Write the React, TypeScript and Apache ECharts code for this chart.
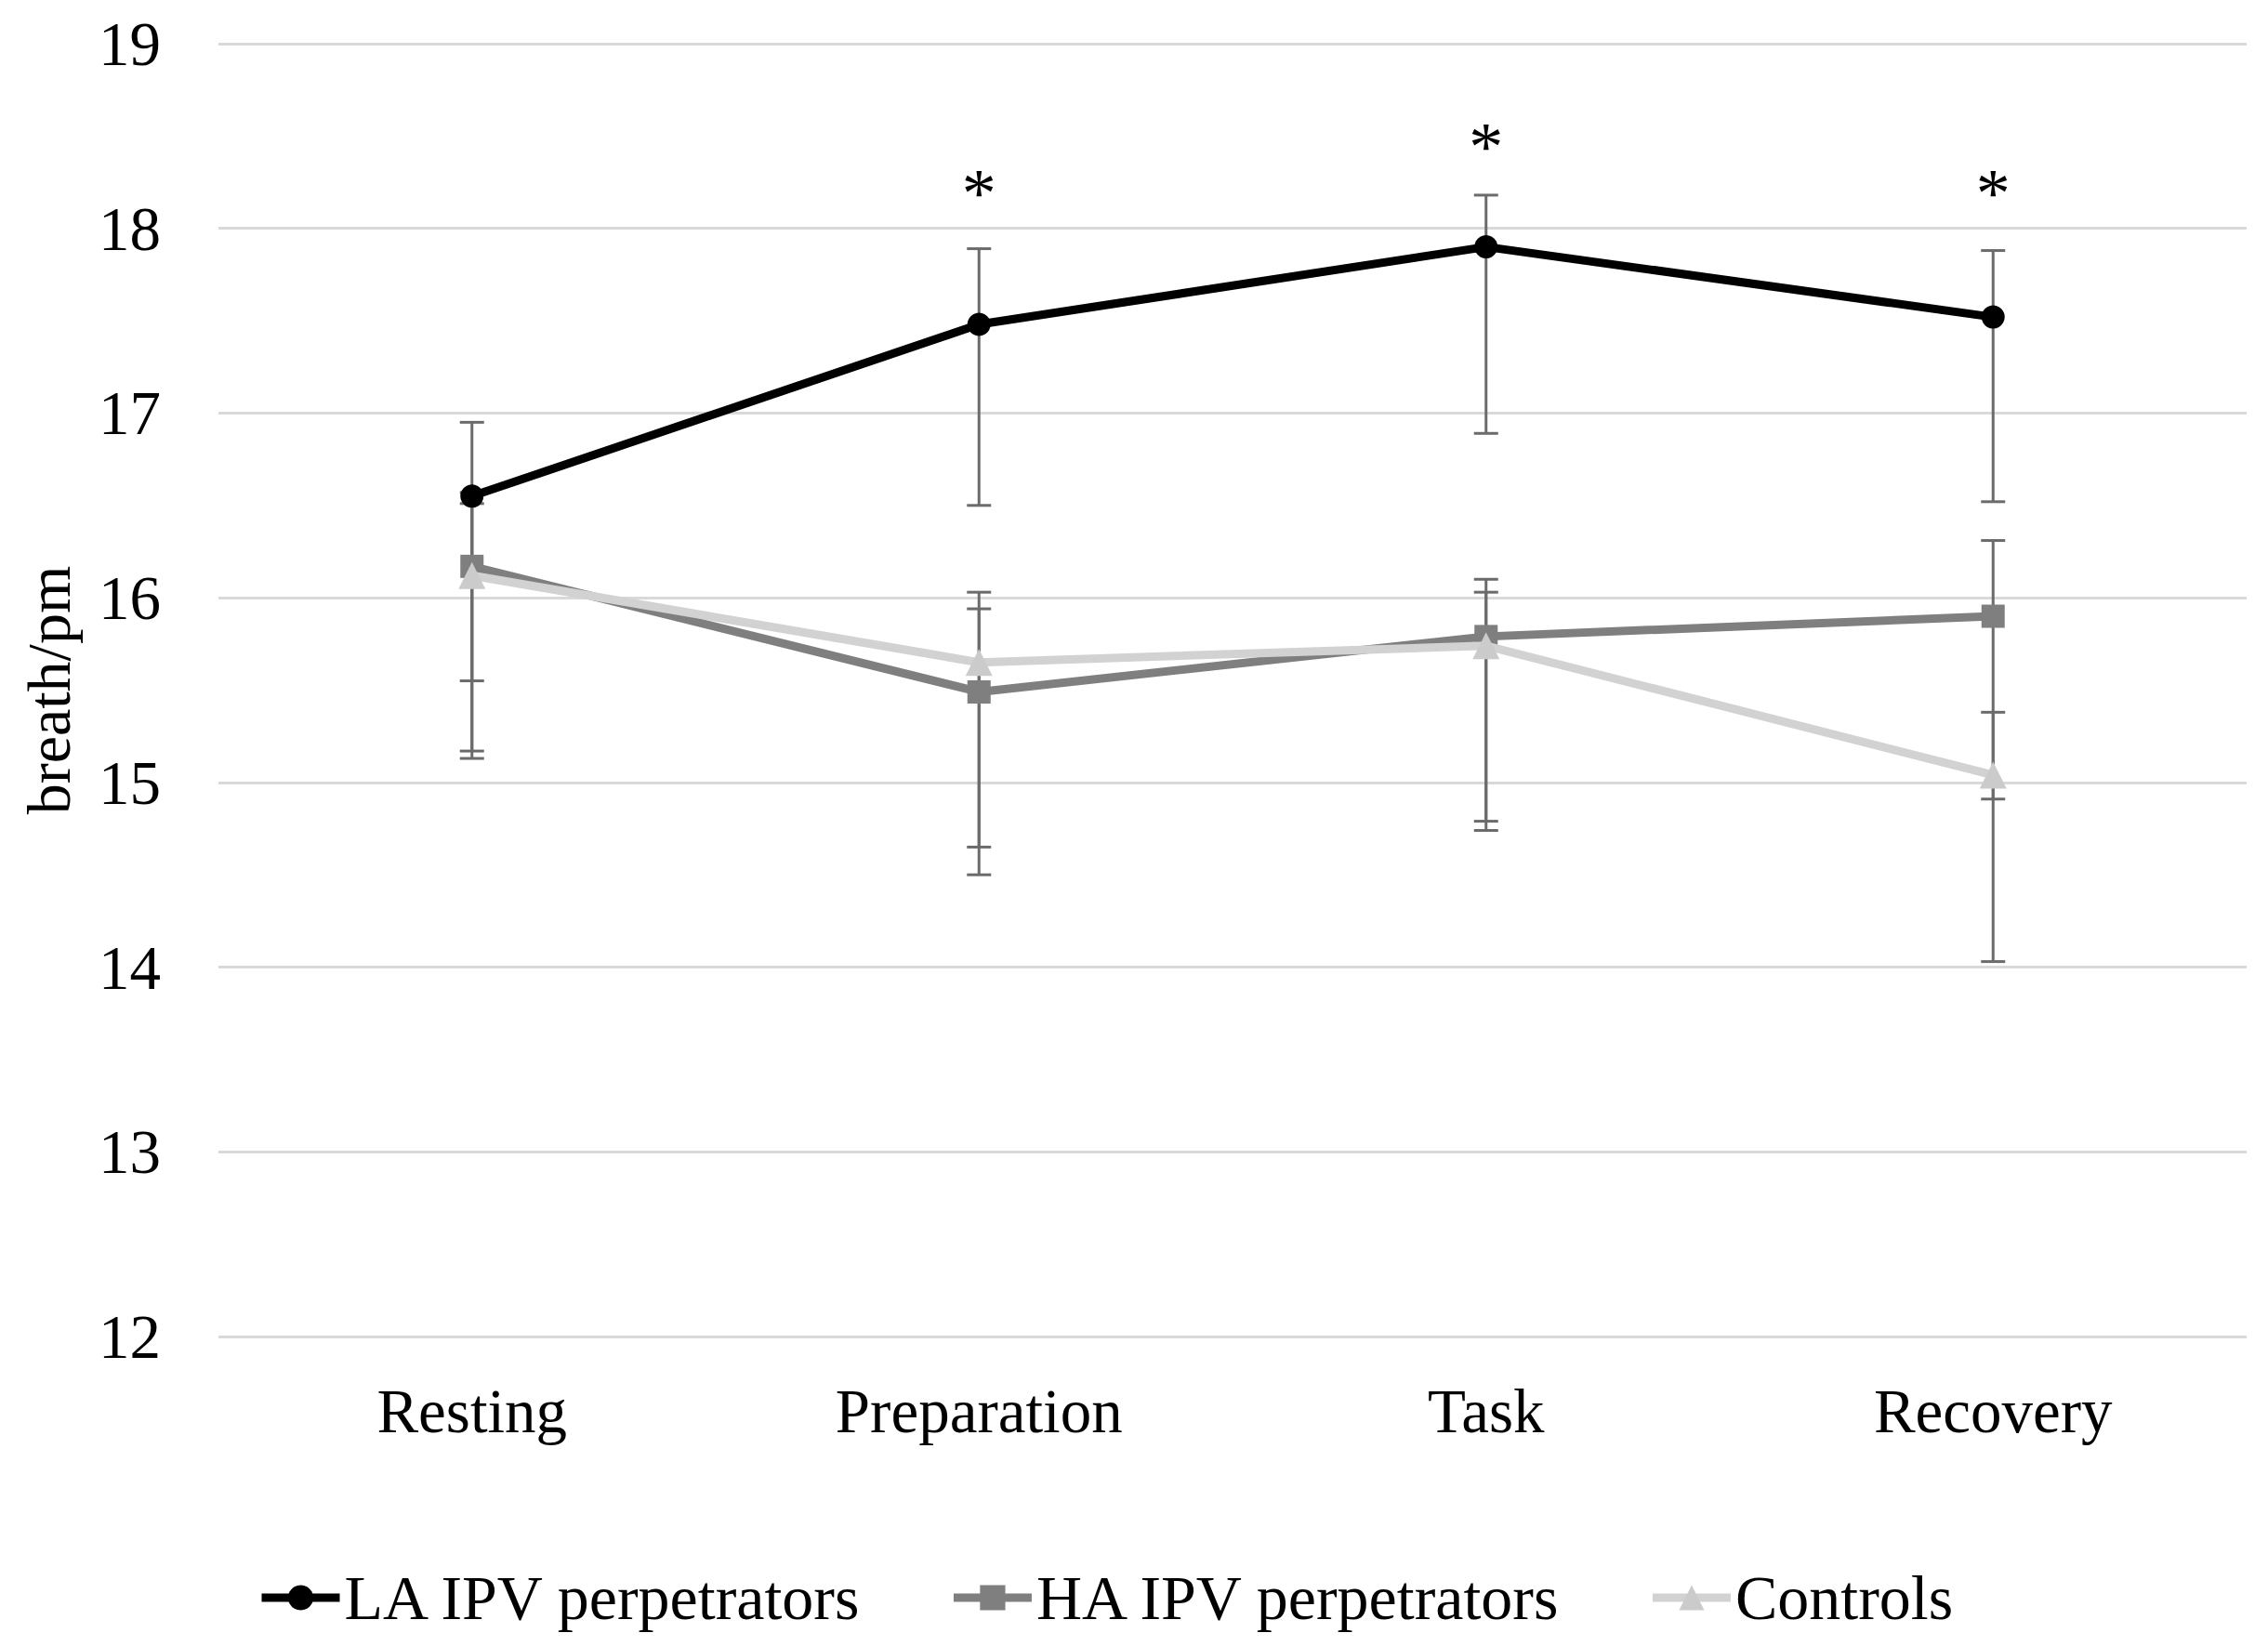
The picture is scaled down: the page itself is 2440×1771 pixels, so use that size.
import React, { useEffect, useRef } from "react";
import * as echarts from "echarts";

const categories = ["Resting", "Preparation", "Task", "Recovery"];
const seriesNames = ["LA IPV perpetrators", "HA IPV perpetrators", "Controls"];

const laMean = [16.55, 17.48, 17.9, 17.52];
const laHigh = [16.95, 17.89, 18.18, 17.88];
const laLow = [15.55, 16.5, 16.89, 16.52];

const haMean = [16.17, 15.49, 15.79, 15.9];
const haHigh = [16.57, 15.94, 16.1, 16.31];
const haLow = [15.17, 14.5, 14.79, 14.91];

const ctlMean = [16.12, 15.65, 15.74, 15.04];
const ctlHigh = [16.51, 16.03, 16.03, 15.38];
const ctlLow = [15.13, 14.65, 14.74, 14.03];

const sigMarks = ["", "*", "*", "*"];
const sigY = [null, 18.19, 18.44, 18.19];

const yMin = 12;
const yMax = 19;
const yStep = 1;

const FONT = "'Liberation Serif', 'Times New Roman', serif";
const ERR_COLOR = "#6b6b6b";

function errData(low: number[], high: number[]) {
  return low.map((lo, i) => [i, lo, high[i]]);
}

function renderErr(params: any, api: any) {
  const x = api.value(0);
  const lo = api.value(1);
  const hi = api.value(2);
  const pHi = api.coord([x, hi]);
  const pLo = api.coord([x, lo]);
  const hw = 13;
  const style = { stroke: ERR_COLOR, lineWidth: 3 };
  return {
    type: "group",
    children: [
      { type: "line", shape: { x1: pHi[0], y1: pHi[1], x2: pLo[0], y2: pLo[1] }, style },
      { type: "line", shape: { x1: pHi[0] - hw, y1: pHi[1], x2: pHi[0] + hw, y2: pHi[1] }, style },
      { type: "line", shape: { x1: pLo[0] - hw, y1: pLo[1], x2: pLo[0] + hw, y2: pLo[1] }, style },
    ],
  };
}

export default function App() {
  const ref = useRef<HTMLDivElement>(null);
  useEffect(() => {
    if (!ref.current) return;
    const chart = echarts.init(ref.current, undefined, { renderer: "svg" });
    const sigData = sigMarks
      .map((m, i) => [i, sigY[i], m])
      .filter((d) => d[2] !== "");
    chart.setOption({
      animation: false,
      backgroundColor: "#ffffff",
      grid: { left: 235, right: 23, top: 47, bottom: 333 },
      legend: {
        data: seriesNames,
        left: 272,
        top: 1680,
        itemWidth: 84,
        itemHeight: 34,
        itemGap: 92,
        lineStyle: { width: 9 },
        textStyle: { fontFamily: FONT, fontSize: 68, color: "#000" },
      },
      xAxis: {
        type: "category",
        data: categories,
        boundaryGap: true,
        axisLine: { show: false },
        axisTick: { show: false },
        axisLabel: { fontFamily: FONT, fontSize: 67, color: "#000", margin: 46 },
        splitLine: { show: false },
      },
      yAxis: {
        type: "value",
        min: yMin,
        max: yMax,
        interval: yStep,
        name: "breath/pm",
        nameLocation: "middle",
        nameGap: 150,
        nameRotate: 90,
        nameTextStyle: { fontFamily: FONT, fontSize: 66, color: "#000" },
        axisLine: { show: false },
        axisTick: { show: false },
        axisLabel: { fontFamily: FONT, fontSize: 67, color: "#000", margin: 62 },
        splitLine: { lineStyle: { color: "#d9d9d9", width: 3 } },
      },
      series: [
        {
          name: "errLA",
          type: "custom",
          renderItem: renderErr,
          data: errData(laLow, laHigh),
          encode: { x: 0, y: [1, 2] },
          z: 1,
          silent: true,
        },
        {
          name: "errHA",
          type: "custom",
          renderItem: renderErr,
          data: errData(haLow, haHigh),
          encode: { x: 0, y: [1, 2] },
          z: 1,
          silent: true,
        },
        {
          name: "errCtl",
          type: "custom",
          renderItem: renderErr,
          data: errData(ctlLow, ctlHigh),
          encode: { x: 0, y: [1, 2] },
          z: 1,
          silent: true,
        },
        {
          name: seriesNames[1],
          type: "line",
          data: haMean,
          symbol: "rect",
          symbolSize: 25,
          itemStyle: { color: "#7f7f7f" },
          lineStyle: { color: "#7f7f7f", width: 9 },
          z: 3,
        },
        {
          name: seriesNames[2],
          type: "line",
          data: ctlMean,
          symbol: "triangle",
          symbolSize: 29,
          itemStyle: { color: "#cbcbcb" },
          lineStyle: { color: "#d2d2d2", width: 9 },
          z: 4,
        },
        {
          name: seriesNames[0],
          type: "line",
          data: laMean,
          symbol: "circle",
          symbolSize: 25,
          itemStyle: { color: "#000" },
          lineStyle: { color: "#000", width: 9 },
          z: 5,
        },
        {
          name: "sig",
          type: "custom",
          data: sigData,
          encode: { x: 0, y: 1 },
          z: 6,
          silent: true,
          renderItem: (params: any, api: any) => {
            const p = api.coord([api.value(0), api.value(1)]);
            return {
              type: "text",
              x: p[0],
              y: p[1],
              style: {
                text: sigMarks[api.value(0)],
                fontFamily: FONT,
                fontSize: 74,
                fill: "#000",
                align: "center",
                verticalAlign: "middle",
              },
            };
          },
        },
      ],
    });
    return () => chart.dispose();
  }, []);
  return (
    <div
      ref={ref}
      style={{ position: "fixed", left: 0, top: 0, width: 2440, height: 1771, background: "#fff" }}
    />
  );
}
